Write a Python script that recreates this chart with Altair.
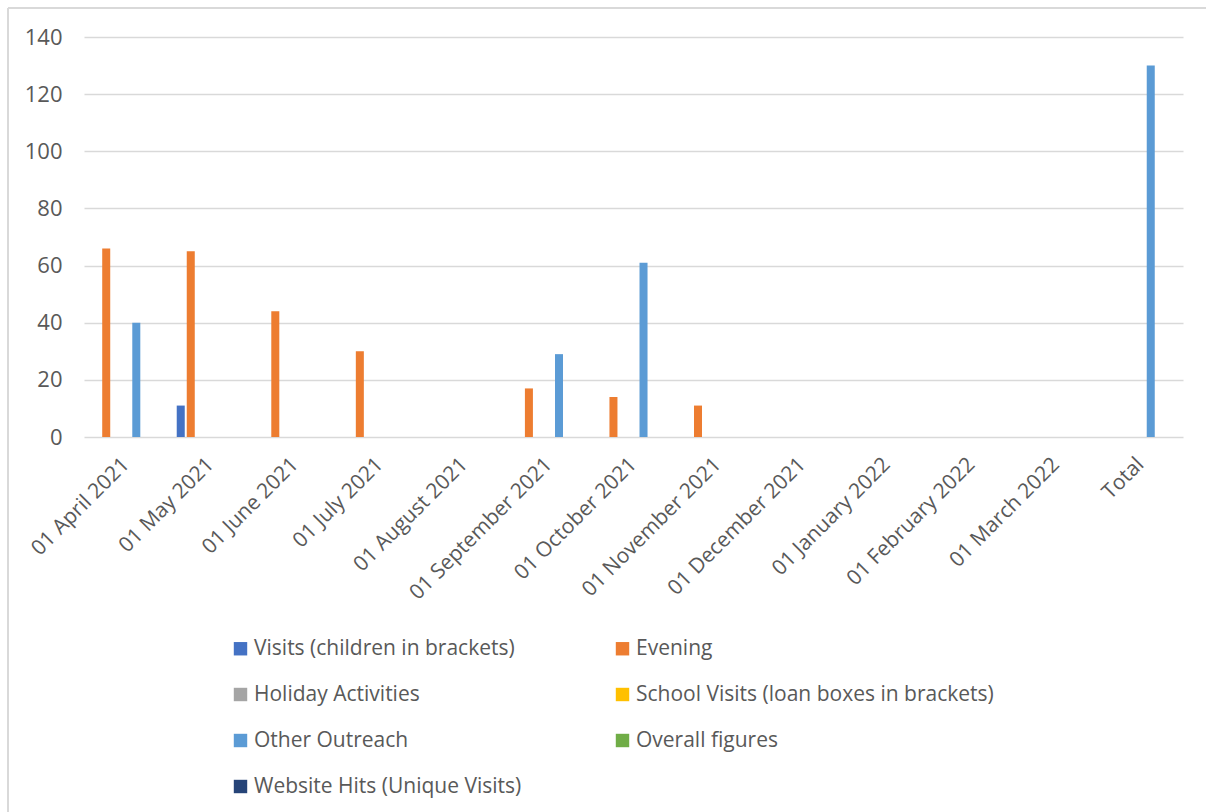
import altair as alt
import pandas as pd

categories = ["01 April 2021", "01 May 2021", "01 June 2021", "01 July 2021",
              "01 August 2021", "01 September 2021", "01 October 2021",
              "01 November 2021", "01 December 2021", "01 January 2022",
              "01 February 2022", "01 March 2022", "Total"]

series_names = ["Visits (children in brackets)", "Evening", "Holiday Activities",
                "School Visits (loan boxes in brackets)", "Other Outreach",
                "Overall figures", "Website Hits (Unique Visits)"]
series_colors = ["#4472C4", "#ED7D31", "#A5A5A5", "#FFC000", "#5B9BD5", "#70AD47", "#264478"]

visits = [0, 11, 0, 0, 0, 0, 0, 0, 0, 0, 0, 0, 0]
evening = [66, 65, 44, 30, 0, 17, 14, 11, 0, 0, 0, 0, 0]
holiday = [0, 0, 0, 0, 0, 0, 0, 0, 0, 0, 0, 0, 0]
school = [0, 0, 0, 0, 0, 0, 0, 0, 0, 0, 0, 0, 0]
other_outreach = [40, 0, 0, 0, 0, 29, 61, 0, 0, 0, 0, 0, 130]
overall = [0, 0, 0, 0, 0, 0, 0, 0, 0, 0, 0, 0, 0]
website = [0, 0, 0, 0, 0, 0, 0, 0, 0, 0, 0, 0, 0]

y_ticks = [0, 20, 40, 60, 80, 100, 120, 140]

all_series = [visits, evening, holiday, school, other_outreach, overall, website]
rows = []
for name, vals in zip(series_names, all_series):
    for cat, v in zip(categories, vals):
        if v > 0:
            rows.append({"category": cat, "series": name, "value": v})
df = pd.DataFrame(rows)

FONT = "Open Sans"
TXT = "#595959"
GRID = "#d9d9d9"

bars = alt.Chart(df).mark_bar().encode(
    x=alt.X("category:N", sort=categories,
            scale=alt.Scale(domain=categories, paddingInner=0.17, paddingOuter=0.085),
            axis=alt.Axis(title=None, labelAngle=-45, labelAlign="right", labelBaseline="middle",
                          ticks=False, domain=False,
                          labelFont=FONT, labelFontSize=21, labelColor=TXT,
                          labelPadding=24, labelLimit=0, grid=False)),
    xOffset=alt.XOffset("series:N", sort=series_names,
                        scale=alt.Scale(domain=series_names, paddingInner=0.2, paddingOuter=0.1)),
    y=alt.Y("value:Q", scale=alt.Scale(domain=[0, 140], nice=False),
            axis=alt.Axis(title=None, values=y_ticks, ticks=False, domain=False,
                          labelFont=FONT, labelFontSize=22, labelColor=TXT,
                          labelPadding=22, gridColor=GRID, gridWidth=1.4)),
    color=alt.Color("series:N",
                    scale=alt.Scale(domain=series_names, range=series_colors),
                    legend=alt.Legend(title=None, orient="none", legendX=146, legendY=601,
                                      direction="horizontal",
                                      columns=2, columnPadding=90, rowPadding=24,
                                      symbolType="square", symbolSize=180,
                                      symbolStrokeWidth=0, labelOffset=3,
                                      labelFont=FONT, labelFontSize=21,
                                      labelColor=TXT, labelLimit=0)),
)

frame_left = alt.Chart(df).mark_rule(color=GRID, strokeWidth=1.5).encode(
    x=alt.value(-76), y=alt.value(-29), y2=alt.value(780))
frame_top = alt.Chart(df).mark_rule(color=GRID, strokeWidth=1.5).encode(
    x=alt.value(-76), x2=alt.value(1130), y=alt.value(-29))

chart = alt.layer(bars, frame_left, frame_top).properties(
    width=1099, height=400,
    autosize=alt.AutoSizeParams(type="none"),
    padding={"left": 84, "top": 37, "right": 23, "bottom": 375},
    background="white",
).configure_view(stroke=None)

chart.save("out.html", embed_options={"renderer": "svg", "actions": False})
